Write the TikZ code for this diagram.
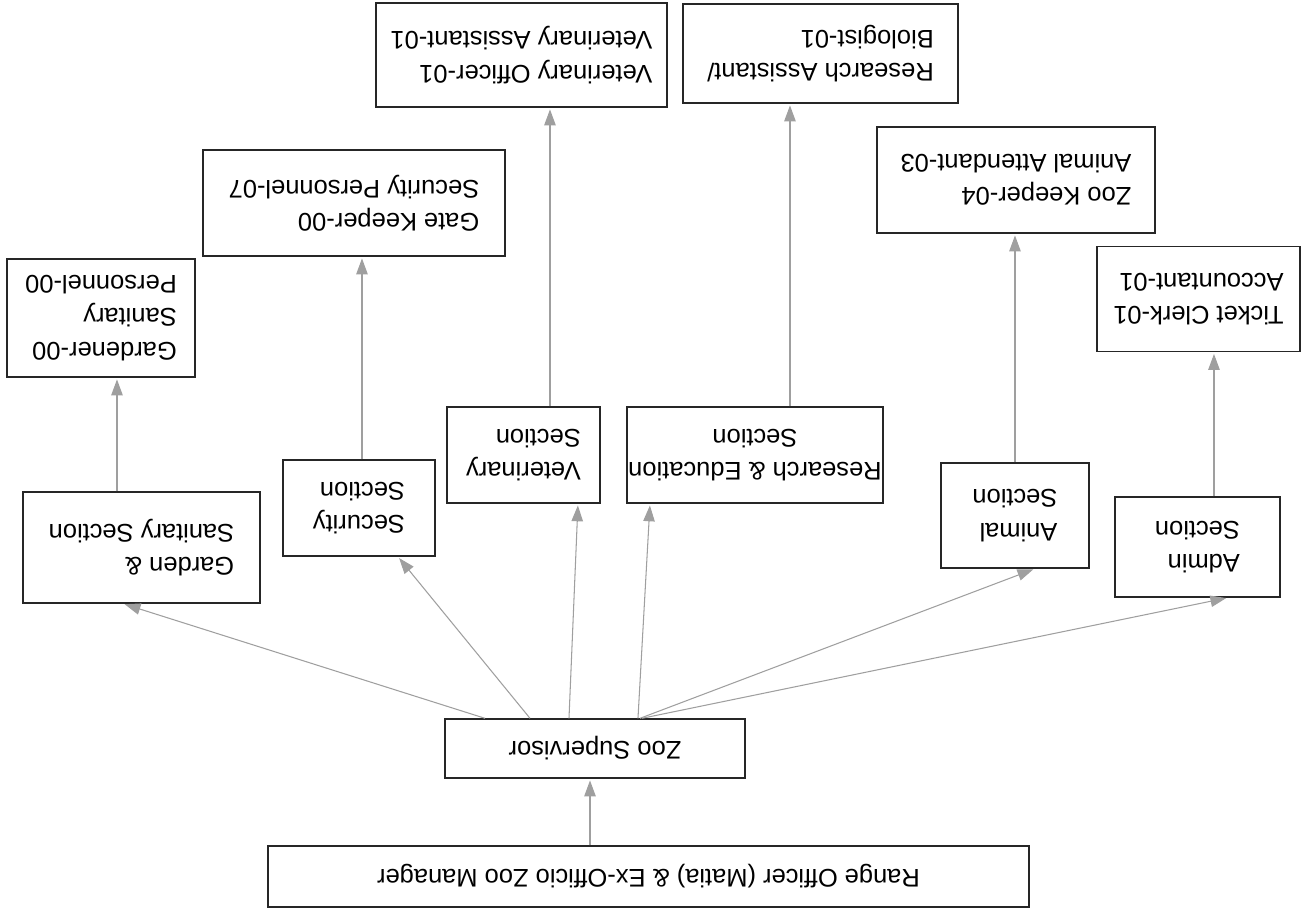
\documentclass[tikz,border=0pt]{standalone}
\usepackage{fontspec}
\setmainfont{Liberation Sans}
\usepackage{tikz}
\usetikzlibrary{arrows.meta}
\tikzset{unit/.style={draw=black!85, line width=0.8pt, align=left, inner sep=0pt}}
\tikzset{link/.style={draw=gray!75, line width=0.6pt, -{Triangle[length=9pt,width=6.5pt]}, shorten >=1pt}}

\begin{document}
\begin{tikzpicture}[rotate=180, transform shape, x=0.02cm, y=0.02cm, font=\fontsize{14.5}{19}\selectfont]
\useasboundingbox (0,0) rectangle (1309,913);
% head and supervisor
\node[unit, minimum width=15.22cm, minimum height=1.22cm] (range) at (660.5,876.5) {Range Officer (Matia) \& Ex-Officio Zoo Manager};
\node[unit, minimum width=6cm, minimum height=1.18cm] (sup) at (714,748.5) {Zoo Supervisor};
% sections
\node[unit, minimum width=3.3cm, minimum height=2cm] (admin) at (111.5,547) {Admin\\Section};
\node[unit, minimum width=2.96cm, minimum height=2.1cm] (animal) at (294,515.5) {Animal\\Section};
\node[unit, align=center, minimum width=5.12cm, minimum height=1.92cm] (research) at (554,455) {Research \& Education\\Section};
\node[unit, minimum width=3.06cm, minimum height=1.92cm] (vet) at (785.5,455) {Veterinary\\Section};
\node[unit, minimum width=3.04cm, minimum height=1.92cm] (security) at (950,508) {Security\\Section};
\node[unit, minimum width=4.74cm, minimum height=2.22cm] (garden) at (1167.5,547.5) {Garden \&\\Sanitary Section};
% staff
\node[unit, minimum width=4.06cm, minimum height=2.1cm] (clerk) at (110.5,299) {Ticket Clerk-01\\Accountant-01};
\node[unit, minimum width=5.56cm, minimum height=2.12cm] (keeper) at (293,180) {Zoo Keeper-04\\Animal Attendant-03};
\node[unit, minimum width=5.5cm, minimum height=1.98cm] (resasst) at (488.5,53.5) {Research Assistant/\\Biologist-01};
\node[unit, minimum width=5.82cm, minimum height=2.08cm] (vetoff) at (787.5,55) {Veterinary Officer-01\\Veterinary Assistant-01};
\node[unit, minimum width=6.04cm, minimum height=2.12cm] (gate) at (955,203) {Gate Keeper-00\\Security Personnel-07};
\node[unit, minimum width=3.76cm, minimum height=2.36cm] (gardener) at (1208,318) {Gardener-00\\Sanitary\\Personnel-00};

\draw[link] ([xshift=1.17cm]range.south) -- ([xshift=1.17cm]range.south |- sup.north);
\foreach \b/\s/\e in {garden/2.2cm/0.37cm, security/1.3cm/-0.78cm, vet/0.52cm/-1.09cm,
  research/-0.86cm/2.1cm, animal/-0.9cm/-0.4cm, admin/-0.94cm/-0.61cm} {
\draw[link] ([xshift=\s]sup.south) -- ([xshift=\e]\b.north);
}
\foreach \a/\b/\s in {garden/gardener/0.49cm, security/gate/-0.06cm, vet/vetoff/-0.53cm,
  research/resasst/-0.7cm, animal/keeper/0cm, admin/clerk/-0.33cm} {
\draw[link] ([xshift=\s]\a.south) -- ([xshift=\s]\a.south |- \b.north);
}
\end{tikzpicture}
\end{document}
